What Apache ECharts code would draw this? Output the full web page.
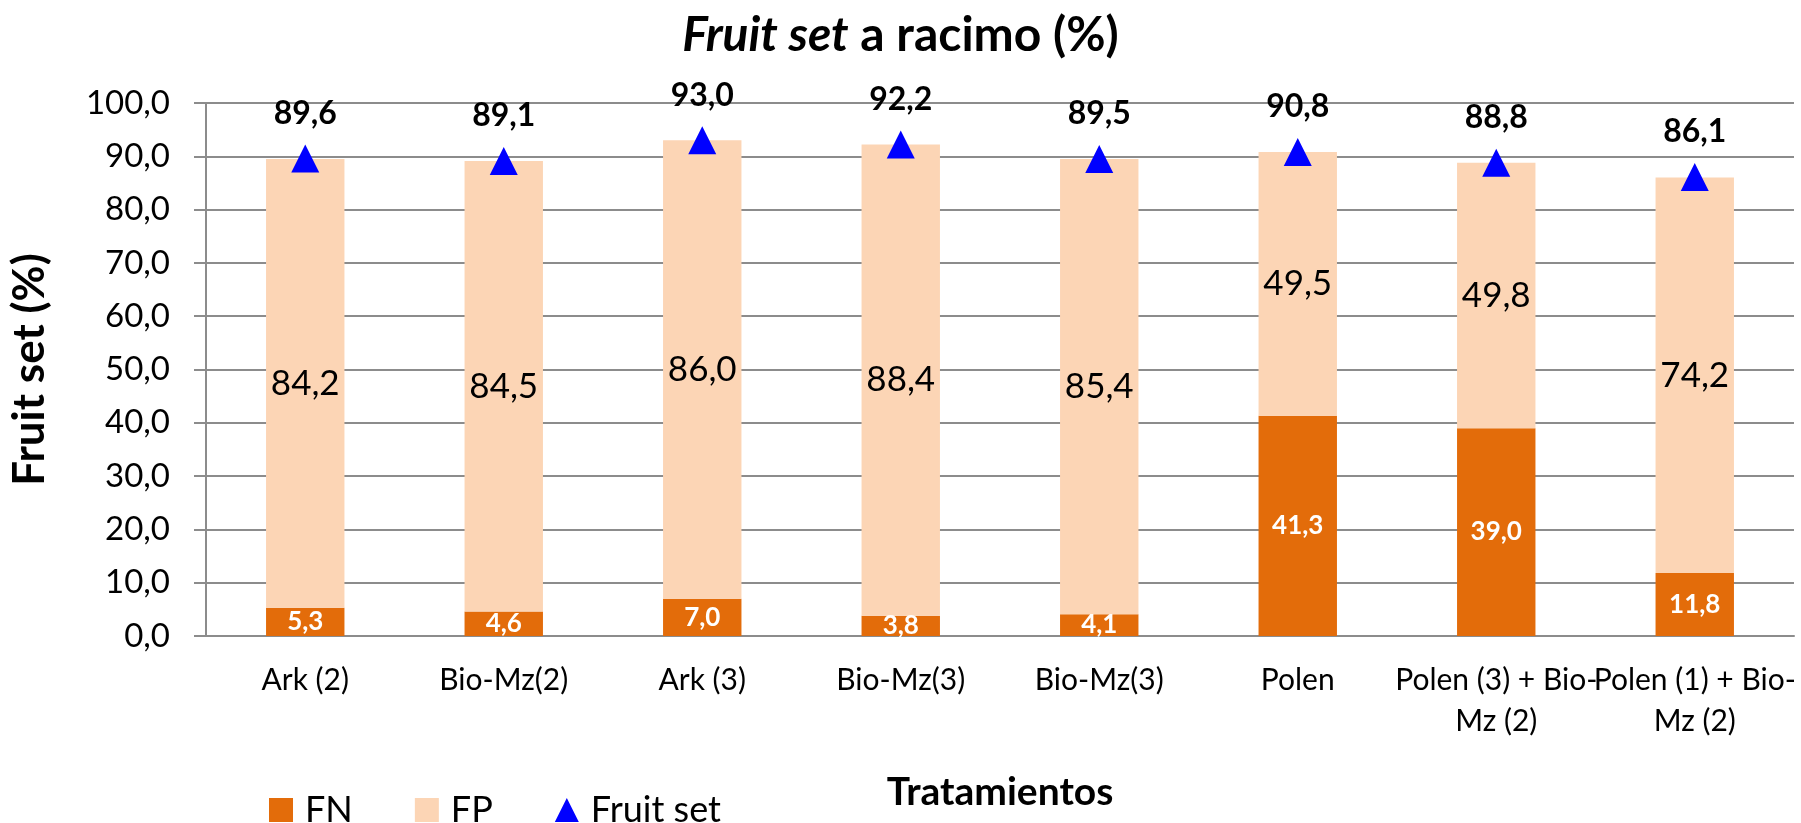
<!DOCTYPE html>
<html>
<head>
<meta charset="UTF-8">
<title>Fruit set a racimo</title>
<script src="https://cdn.jsdelivr.net/npm/echarts@6/dist/echarts.min.js"></script>
</head>
<body style="margin:0">
<div id="main" style="width:1801px;height:823px"></div>
<script>
// datos
var tratamientos = ['Ark (2)', 'Bio-Mz(2)', 'Ark (3)', 'Bio-Mz(3)', 'Bio-Mz(3)', 'Polen', 'Polen (3) + Bio-\nMz (2)', 'Polen (1) + Bio-\nMz (2)'];
var fn = [5.3, 4.6, 7.0, 3.8, 4.1, 41.3, 39.0, 11.8];
var fp = [84.2, 84.5, 86.0, 88.4, 85.4, 49.5, 49.8, 74.2];
var fruitSet = [89.6, 89.1, 93.0, 92.2, 89.5, 90.8, 88.8, 86.1];

var font = 'Lato';
function coma(v) { return v.toFixed(1).replace('.', ','); }

var myChart = echarts.init(document.getElementById('main'));

var option = {
    backgroundColor: '#fff',
    textStyle: { fontFamily: font, color: '#000' },
    title: {
        text: '{i|Fruit set} a racimo (%)',
        left: 'center',
        top: 7,
        textStyle: {
            fontFamily: font, fontSize: 48, fontWeight: 'bold', color: '#000',
            rich: { i: { fontFamily: font, fontSize: 48, fontWeight: 'bold', fontStyle: 'italic', color: '#000' } }
        }
    },
    legend: {
        left: 264,
        top: 787,
        itemWidth: 24,
        itemHeight: 24,
        itemGap: 62,
        textStyle: { fontSize: 36, color: '#000', padding: [0, 0, 0, 7] },
        data: [
            { name: 'FN', icon: 'rect' },
            { name: 'FP', icon: 'rect' },
            { name: 'Fruit set', icon: 'triangle' }
        ]
    },
    grid: { left: 192, right: 7, top: 103, bottom: 187 },
    xAxis: {
        type: 'category',
        data: tratamientos,
        name: 'Tratamientos',
        nameLocation: 'middle',
        nameGap: 137,
        nameTextStyle: { fontSize: 39, fontWeight: 'bold', color: '#000' },
        axisLine: { lineStyle: { color: '#8c8c8c', width: 2 } },
        axisTick: { length: 9, lineStyle: { color: '#8c8c8c', width: 2 } },
        axisLabel: { interval: 0, fontSize: 30, color: '#000', margin: 24, lineHeight: 41 }
    },
    yAxis: {
        type: 'value',
        min: 0,
        max: 100,
        interval: 10,
        name: 'Fruit set (%)',
        nameLocation: 'middle',
        nameGap: 154,
        nameTextStyle: { fontSize: 44, fontWeight: 'bold', color: '#000' },
        axisLine: { show: true, lineStyle: { color: '#8c8c8c', width: 2 } },
        axisTick: { show: true, length: 12, lineStyle: { color: '#8c8c8c', width: 2 } },
        axisLabel: { fontSize: 33, color: '#000', margin: 36, formatter: function (v) { return coma(v); } },
        splitLine: { lineStyle: { color: '#8c8c8c', width: 2 } }
    },
    series: [
        {
            name: 'FN',
            type: 'bar',
            stack: 'total',
            barWidth: '39.5%',
            data: fn,
            itemStyle: { color: '#E36C0A' },
            label: {
                show: true, position: 'inside', color: '#fff', fontWeight: 'bold', fontSize: 26,
                formatter: function (p) { return coma(p.value); }
            }
        },
        {
            name: 'FP',
            type: 'bar',
            stack: 'total',
            data: fp,
            itemStyle: { color: '#FCD5B5' },
            label: {
                show: true, position: 'inside', color: '#000', fontSize: 35,
                formatter: function (p) { return coma(p.value); }
            }
        },
        {
            name: 'Fruit set',
            type: 'line',
            data: fruitSet,
            symbol: 'triangle',
            symbolSize: 28,
            lineStyle: { width: 0, opacity: 0 },
            itemStyle: { color: '#0000FF' },
            z: 5,
            label: {
                show: true, position: 'top', distance: 15, color: '#000', fontWeight: 'bold', fontSize: 32,
                formatter: function (p) { return coma(p.value); }
            }
        }
    ]
};

myChart.setOption(option);
</script>
</body>
</html>
